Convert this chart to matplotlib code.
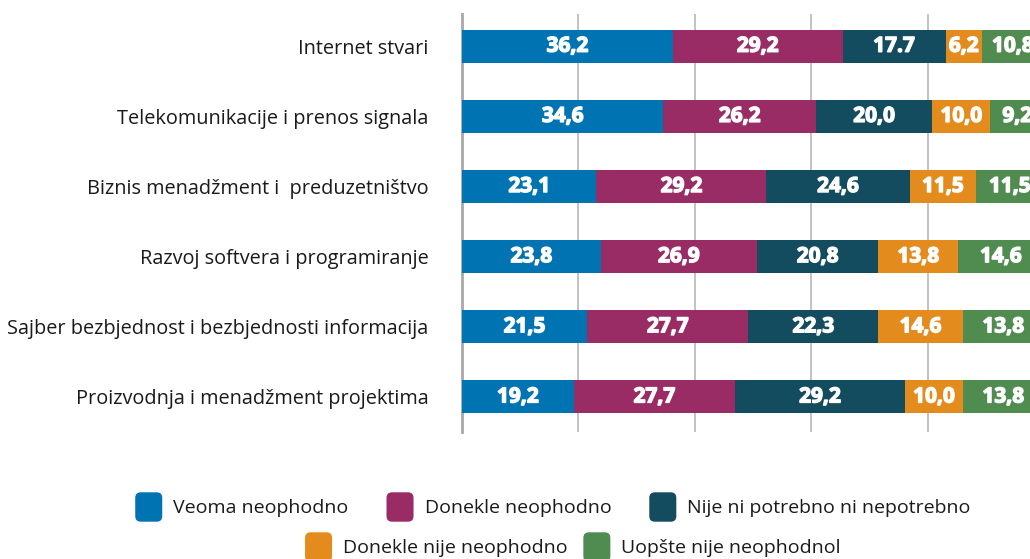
import numpy as np
import matplotlib
matplotlib.use("Agg")
import matplotlib.pyplot as plt
import matplotlib.patheffects as pe
from matplotlib.patches import FancyBboxPatch
from matplotlib.legend_handler import HandlerPatch

# podaci
categories = [
    "Internet stvari",
    "Telekomunikacije i prenos signala",
    "Biznis menadžment i  preduzetništvo",
    "Razvoj softvera i programiranje",
    "Sajber bezbjednost i bezbjednosti informacija",
    "Proizvodnja i menadžment projektima",
]
series_names = [
    "Veoma neophodno",
    "Donekle neophodno",
    "Nije ni potrebno ni nepotrebno",
    "Donekle nije neophodno",
    "Uopšte nije neophodnol",
]
veoma = [36.2, 34.6, 23.1, 23.8, 21.5, 19.2]
donekle = [29.2, 26.2, 29.2, 26.9, 27.7, 27.7]
nije_ni = [17.7, 20.0, 24.6, 20.8, 22.3, 29.2]
donekle_nije = [6.2, 10.0, 11.5, 13.8, 14.6, 10.0]
uopste = [10.8, 9.2, 11.5, 14.6, 13.8, 13.8]
# oznake kao na slici (17.7 ima tacku)
labels = [
    ["36,2", "34,6", "23,1", "23,8", "21,5", "19,2"],
    ["29,2", "26,2", "29,2", "26,9", "27,7", "27,7"],
    ["17.7", "20,0", "24,6", "20,8", "22,3", "29,2"],
    ["6,2", "10,0", "11,5", "13,8", "14,6", "10,0"],
    ["10,8", "9,2", "11,5", "14,6", "13,8", "13,8"],
]
colors = ["#0074b3", "#9a2c65", "#134c5e", "#e38c1d", "#508b4f"]

plt.rcParams['font.family'] = ['Open Sans', 'DejaVu Sans']

fig = plt.figure(figsize=(10.3, 5.59), dpi=100)
ax = fig.add_axes([462 / 1030, 127 / 559, 582 / 1030, 418 / 559])

y = np.arange(len(categories))
left = np.zeros(len(categories))
handles = []
for vals, lab, col, name in zip([veoma, donekle, nije_ni, donekle_nije, uopste],
                                labels, colors, series_names):
    bars = ax.barh(y, vals, left=left, height=0.47, color=col, label=name, zorder=3)
    txts = ax.bar_label(bars, labels=lab, label_type='center', color='white',
                        fontsize=15, fontweight='bold', zorder=4)
    for t in txts:
        # malo deblji font
        t.set_path_effects([pe.withStroke(linewidth=1.0, foreground='white')])
    handles.append(bars[0])
    left += np.array(vals)

ax.set_xlim(0, 100)
ax.set_ylim(5.5, -0.46)
ax.set_xticks([20, 40, 60, 80, 100])
ax.set_xticklabels([])
ax.tick_params(axis='x', length=0)
ax.grid(axis='x', color='#bdbdbd', linewidth=1.3, zorder=0)
ax.set_yticks(y)
ax.set_yticklabels(categories, fontsize=14.3, color='#1a1a1a')
ax.tick_params(axis='y', length=0, pad=24)
for s in ['top', 'right', 'bottom']:
    ax.spines[s].set_visible(False)
ax.spines['left'].set_color('#a8a8a8')
ax.spines['left'].set_linewidth(2)


class RoundHandler(HandlerPatch):
    def create_artists(self, legend, orig_handle, xdescent, ydescent,
                       width, height, fontsize, trans):
        p = FancyBboxPatch((-xdescent, -ydescent), width, height,
                           boxstyle='round,pad=0,rounding_size=4',
                           fc=orig_handle.get_facecolor(), ec='none',
                           transform=trans)
        return [p]


leg_kw = dict(frameon=False, fontsize=14, handlelength=1.39, handleheight=1.95,
              handletextpad=0.57, labelcolor='#1a1a1a',
              handler_map={matplotlib.patches.Rectangle: RoundHandler()})
fig.legend(handles[:3], series_names[:3], loc='center', ncol=3, columnspacing=1.95,
           bbox_to_anchor=(553 / 1030, 1 - 507 / 559), **leg_kw)
fig.legend(handles[3:], series_names[3:], loc='center', ncol=2, columnspacing=0.8,
           bbox_to_anchor=(573 / 1030, 1 - 547 / 559), **leg_kw)

fig.savefig("out.png", dpi=100)
